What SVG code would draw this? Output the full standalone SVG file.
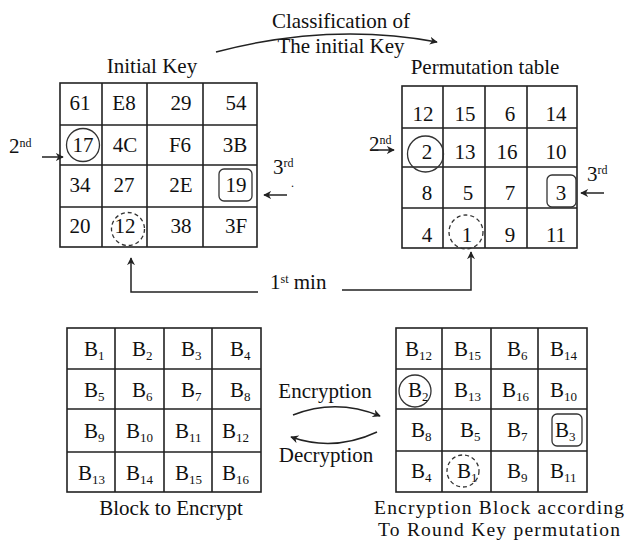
<svg xmlns="http://www.w3.org/2000/svg" width="626" height="543" viewBox="0 0 626 543" font-family="'Liberation Serif', 'DejaVu Serif', serif">
<style>
text{font-family:'Liberation Serif','DejaVu Serif',serif;font-size:21px;fill:#111}
.c{text-anchor:middle}
.sup{font-size:12px}
.sub{font-size:13px}
.cap{font-size:19.5px}
.grid{fill:none;stroke:#222;stroke-width:1.6}
.mk{fill:none;stroke:#333;stroke-width:1.3}
.dash{fill:none;stroke:#333;stroke-width:1.3;stroke-dasharray:4 3}
.ln{fill:none;stroke:#222;stroke-width:1.5}
</style>
<defs>
<marker id="ah" viewBox="0 0 10 10" refX="9" refY="5" markerWidth="8" markerHeight="8" markerUnits="userSpaceOnUse" orient="auto">
<path d="M0,0 L10,5 L0,10 L3,5 z" fill="#222"/>
</marker>
</defs>

<g id="initial-key">
<text class="c" x="152" y="73">Initial Key</text>
<rect class="grid" x="60" y="83" width="197" height="164"/>
<path class="grid" d="M102,83V247M147,83V247M203,83V247M60,125H257M60,165H257M60,207H257"/>
<text class="c" x="80" y="110">61</text><text class="c" x="124" y="110">E8</text><text class="c" x="181" y="110">29</text><text class="c" x="236" y="110">54</text>
<text class="c" x="83" y="152">17</text><text class="c" x="125" y="152">4C</text><text class="c" x="180" y="152">F6</text><text class="c" x="235" y="152">3B</text>
<text class="c" x="80" y="192">34</text><text class="c" x="124" y="192">27</text><text class="c" x="181" y="192">2E</text><text class="c" x="236" y="192">19</text>
<text class="c" x="80" y="233">20</text><text class="c" x="125" y="233">12</text><text class="c" x="181" y="233">38</text><text class="c" x="236" y="233">3F</text>
<circle class="mk" cx="83" cy="145" r="16.5"/>
<rect class="mk" x="219" y="169" width="33" height="32" rx="5"/>
<circle class="dash" cx="128" cy="229" r="16.5"/>
<text x="9" y="153">2<tspan class="sup" dy="-6">nd</tspan></text>
<text x="273" y="174">3<tspan class="sup" dy="-7">rd</tspan></text>
<text x="291" y="187" style="font-size:12px">.</text>
</g>

<g id="permutation-table">
<text class="c" x="485" y="74">Permutation table</text>
<rect class="grid" x="402" y="86" width="175" height="162"/>
<path class="grid" d="M443,86V248M485,86V248M527,86V248M402,128H577M402,167H577M402,208H577"/>
<text class="c" x="423" y="121">12</text><text class="c" x="465" y="121">15</text><text class="c" x="510" y="121">6</text><text class="c" x="556" y="121">14</text>
<text class="c" x="427" y="159">2</text><text class="c" x="465" y="159">13</text><text class="c" x="507" y="159">16</text><text class="c" x="556" y="159">10</text>
<text class="c" x="427" y="200">8</text><text class="c" x="468" y="200">5</text><text class="c" x="510" y="200">7</text><text class="c" x="561" y="200">3</text>
<text class="c" x="427" y="242">4</text><text class="c" x="467" y="242">1</text><text class="c" x="510" y="242">9</text><text class="c" x="556" y="242">11</text>
<circle class="mk" cx="425.5" cy="154" r="18"/>
<rect class="mk" x="547" y="175" width="29" height="32" rx="5"/>
<circle class="dash" cx="466" cy="232" r="17"/>
<text x="369" y="151">2<tspan class="sup" dy="-7">nd</tspan></text>
<text x="587" y="181">3<tspan class="sup" dy="-7">rd</tspan></text>
</g>

<g id="classification-label">
<text class="c" x="341" y="28">Classification of</text>
<text class="c" x="341" y="53">The initial Key</text>
</g>

<g id="min-label">
<text x="270" y="289">1<tspan class="sup" dy="-6">st</tspan><tspan dy="6"> min</tspan></text>
</g>

<g id="block-to-encrypt">
<rect class="grid" x="67" y="328" width="194" height="164"/>
<path class="grid" d="M115,328V492M164,328V492M212,328V492M67,369H261M67,409H261M67,452H261"/>
<text x="84" y="356">B<tspan class="sub" dy="4">1</tspan></text>
<text x="132" y="356">B<tspan class="sub" dy="4">2</tspan></text>
<text x="181" y="356">B<tspan class="sub" dy="4">3</tspan></text>
<text x="230" y="356">B<tspan class="sub" dy="4">4</tspan></text>
<text x="84" y="397">B<tspan class="sub" dy="4">5</tspan></text>
<text x="132" y="397">B<tspan class="sub" dy="4">6</tspan></text>
<text x="181" y="397">B<tspan class="sub" dy="4">7</tspan></text>
<text x="230" y="397">B<tspan class="sub" dy="4">8</tspan></text>
<text x="84" y="438">B<tspan class="sub" dy="4">9</tspan></text>
<text x="126" y="438">B<tspan class="sub" dy="4">10</tspan></text>
<text x="175" y="438">B<tspan class="sub" dy="4">11</tspan></text>
<text x="222" y="438">B<tspan class="sub" dy="4">12</tspan></text>
<text x="78" y="480">B<tspan class="sub" dy="4">13</tspan></text>
<text x="126" y="480">B<tspan class="sub" dy="4">14</tspan></text>
<text x="175" y="480">B<tspan class="sub" dy="4">15</tspan></text>
<text x="222" y="480">B<tspan class="sub" dy="4">16</tspan></text>
<text class="c" x="171" y="515">Block to Encrypt</text>
</g>

<g id="encryption-block">
<rect class="grid" x="396" y="328" width="191" height="164"/>
<path class="grid" d="M442,328V492M491,328V492M538,328V492M396,369H587M396,409H587M396,451H587"/>
<text x="405" y="356">B<tspan class="sub" dy="4">12</tspan></text>
<text x="454" y="356">B<tspan class="sub" dy="4">15</tspan></text>
<text x="507" y="356">B<tspan class="sub" dy="4">6</tspan></text>
<text x="550" y="356">B<tspan class="sub" dy="4">14</tspan></text>
<text x="408" y="397">B<tspan class="sub" dy="4">2</tspan></text>
<text x="454" y="397">B<tspan class="sub" dy="4">13</tspan></text>
<text x="502" y="397">B<tspan class="sub" dy="4">16</tspan></text>
<text x="550" y="397">B<tspan class="sub" dy="4">10</tspan></text>
<text x="411" y="437">B<tspan class="sub" dy="4">8</tspan></text>
<text x="460" y="437">B<tspan class="sub" dy="4">5</tspan></text>
<text x="507" y="437">B<tspan class="sub" dy="4">7</tspan></text>
<text x="555" y="437">B<tspan class="sub" dy="4">3</tspan></text>
<text x="411" y="478">B<tspan class="sub" dy="4">4</tspan></text>
<text x="457" y="478">B<tspan class="sub" dy="4">1</tspan></text>
<text x="507" y="478">B<tspan class="sub" dy="4">9</tspan></text>
<text x="550" y="478">B<tspan class="sub" dy="4">11</tspan></text>
<circle class="mk" cx="415" cy="391" r="16"/>
<rect class="mk" x="552" y="414" width="30" height="32" rx="5"/>
<circle class="dash" cx="463" cy="471" r="16"/>
<text class="c cap" x="499" y="514" textLength="250">Encryption Block according</text>
<text class="c cap" x="499" y="536" textLength="242">To Round Key permutation</text>
</g>

<g id="crypt-labels">
<text class="c" x="325" y="398">Encryption</text>
<text class="c" x="326" y="462">Decryption</text>
</g>

<g id="connectors">
<path class="ln" d="M216,52 Q330,22 437,42" marker-end="url(#ah)"/>
<path class="ln" d="M42,157 H63" marker-end="url(#ah)"/>
<path class="ln" d="M287,195 H264" marker-end="url(#ah)"/>
<path class="ln" d="M372,150 H394" marker-end="url(#ah)"/>
<path class="ln" d="M604,193 H581" marker-end="url(#ah)"/>
<path class="ln" d="M258,292 H131 V258" marker-end="url(#ah)"/>
<path class="ln" d="M342,290 H471 V252" marker-end="url(#ah)"/>
<path class="ln" d="M293,415 Q336,398 380,416" marker-end="url(#ah)"/>
<path class="ln" d="M377,432 Q334,452 291,437" marker-end="url(#ah)"/>
</g>
</svg>
